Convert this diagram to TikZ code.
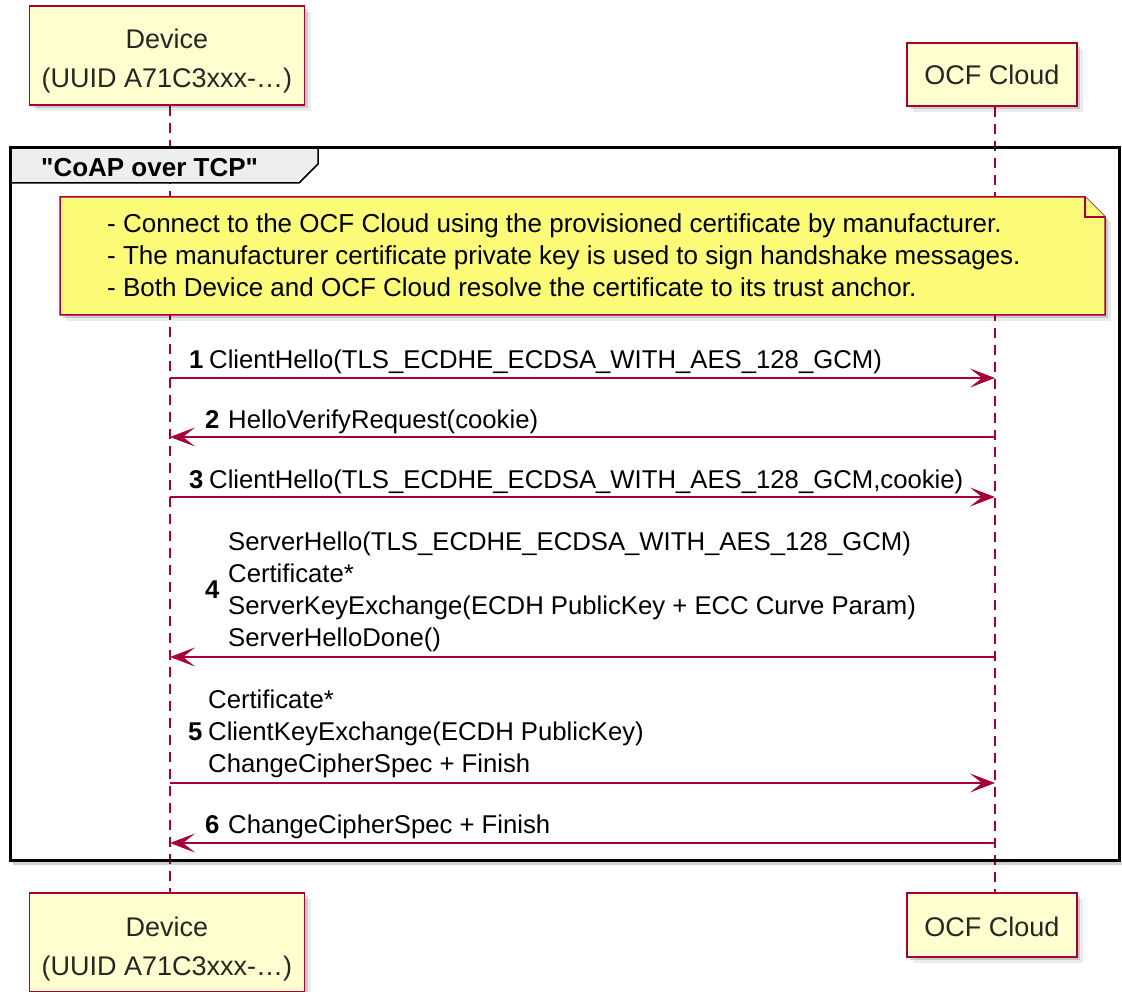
\documentclass[tikz,border=0pt]{standalone}
\usepackage{fontspec}
\setmainfont{Liberation Sans}
\usetikzlibrary{arrows.meta,shadows}
\definecolor{pborder}{HTML}{A80036}
\definecolor{pfill}{HTML}{FEFECE}
\definecolor{nfill}{HTML}{FBFB77}
\definecolor{tabfill}{HTML}{EEEEEE}
\pgfdeclarelayer{back}
\pgfdeclarelayer{mid}
\pgfsetlayers{back,mid,main}
\begin{document}
\begin{tikzpicture}[x=1pt,y=-1pt,
  pshadow/.style={drop shadow={shadow xshift=3pt, shadow yshift=-3pt, fill=black, opacity=0.14},
                  drop shadow={shadow xshift=6pt, shadow yshift=-6pt, fill=black, opacity=0.08}},
  part/.style={draw=pborder, line width=1.5pt, fill=pfill, inner sep=0pt,
               font=\fontsize{27}{39}\selectfont, text=black!85, pshadow},
  lifeline/.style={pborder, line width=1.5pt, dash pattern=on 10pt off 7pt},
  msg/.style={pborder, line width=1.5pt, -{Stealth[length=25pt, width=19pt, inset=12pt]}},
  lbl/.style={font=\fontsize{25.7}{32}\selectfont, inner sep=0pt, anchor=base west},
  notetext/.style={font=\fontsize{26}{32}\selectfont, inner sep=0pt, anchor=base west},
  tabtext/.style={font=\fontsize{26}{32}\selectfont\bfseries, inner sep=0pt, anchor=base west},
  framebox/.style={draw=black, line width=3pt, inner sep=0pt}
]
\useasboundingbox (0,0) rectangle (1122,992);
\begin{pgfonlayer}{back}
  \fill[white] (0,0) rectangle (1122,992);
\end{pgfonlayer}

% participants
\node[part, minimum width=275pt, minimum height=99pt, text height=21pt, text depth=34pt] (devT) at (167,55.5)
  {\begin{tabular}[t]{@{}c@{}}Device\\(UUID A71C3xxx-…)\end{tabular}};
\node[part, minimum width=170pt, minimum height=63pt, text height=21pt, text depth=0pt] (ocfT) at (992,74.5) {OCF Cloud};
\node[part, minimum width=275pt, minimum height=99pt, text height=21pt, text depth=34pt] (devB) at (167,942.5)
  {\begin{tabular}[t]{@{}c@{}}Device\\(UUID A71C3xxx-…)\end{tabular}};
\node[part, minimum width=170pt, minimum height=64pt, text height=23pt, text depth=0pt] (ocfB) at (992,925) {OCF Cloud};

% lifelines
\coordinate (LD) at (170,0);
\coordinate (LC) at (995,0);
\begin{pgfonlayer}{back}
  \draw[lifeline] (devT.south -| LD) -- (devB.north -| LD);
  \draw[lifeline] (ocfT.south -| LC) -- (ocfB.north -| LC);
\end{pgfonlayer}

% frame
\node[framebox, minimum width=1109pt, minimum height=712pt] (frm) at (564.5,504) {};
\begin{pgfonlayer}{mid}
  \draw[black, opacity=0.18, line width=3pt] (1123,151) -- (1123,863.5) -- (13,863.5);
  \filldraw[fill=tabfill, draw=black, line width=1.5pt] (10,148) -- (318,148) -- (318,164) -- (299,183) -- (10,183) -- cycle;
\end{pgfonlayer}
\node[tabtext] (tabl) at (41,177) {\textquotedbl CoAP over TCP\textquotedbl};

% note
\begin{pgfonlayer}{mid}
  \fill[black, opacity=0.08] (66,203) -- (1091,203) -- (1111,223) -- (1111,321) -- (66,321) -- cycle;
  \fill[black, opacity=0.14] (63,200) -- (1088,200) -- (1108,220) -- (1108,318) -- (63,318) -- cycle;
  \filldraw[fill=nfill, draw=pborder, line width=1.5pt] (60,197) -- (1085,197) -- (1105,217) -- (1105,315) -- (60,315) -- cycle;
  \filldraw[fill=nfill, draw=pborder, line width=1.5pt] (1085,197) -- (1085,217) -- (1105,217);
\end{pgfonlayer}
\node[notetext] (note) at (107,233) {\begin{tabular}[t]{@{}l@{}}
- Connect to the OCF Cloud using the provisioned certificate by manufacturer.\\
- The manufacturer certificate private key is used to sign handshake messages.\\
- Both Device and OCF Cloud resolve the certificate to its trust anchor.\end{tabular}};

% message anchors
\coordinate (D1) at (170,378); \coordinate (C1) at (995,378);
\coordinate (D2) at (170,437); \coordinate (C2) at (995,437);
\coordinate (D3) at (170,497); \coordinate (C3) at (995,497);
\coordinate (D4) at (170,657); \coordinate (C4) at (995,657);
\coordinate (D5) at (170,783); \coordinate (C5) at (995,783);
\coordinate (D6) at (170,843); \coordinate (C6) at (995,843);

\draw[msg] (D1) -- (C1);
\draw[msg] (C2) -- (D2);
\draw[msg] (D3) -- (C3);
\draw[msg] (C4) -- (D4);
\draw[msg] (D5) -- (C5);
\draw[msg] (C6) -- (D6);

% labels
\node[lbl] (n1) at (189,369) {\textbf{1}};
\node[lbl] (t1) at (209,369) {ClientHello(TLS\_ECDHE\_ECDSA\_WITH\_AES\_128\_GCM)};
\node[lbl] (n2) at (205,428) {\textbf{2}};
\node[lbl] (t2) at (228,428) {HelloVerifyRequest(cookie)};
\node[lbl] (n3) at (189,488) {\textbf{3}};
\node[lbl] (t3) at (209,488) {ClientHello(TLS\_ECDHE\_ECDSA\_WITH\_AES\_128\_GCM,cookie)};
\node[lbl] (n4) at (205,598) {\textbf{4}};
\node[lbl] (t4) at (228,550) {\begin{tabular}[t]{@{}l@{}}
ServerHello(TLS\_ECDHE\_ECDSA\_WITH\_AES\_128\_GCM)\\
Certificate*\\
ServerKeyExchange(ECDH PublicKey + ECC Curve Param)\\
ServerHelloDone()\end{tabular}};
\node[lbl] (n5) at (188,740) {\textbf{5}};
\node[lbl] (t5) at (208,708) {\begin{tabular}[t]{@{}l@{}}
Certificate*\\
ClientKeyExchange(ECDH PublicKey)\\
ChangeCipherSpec + Finish\end{tabular}};
\node[lbl] (n6) at (205,833) {\textbf{6}};
\node[lbl] (t6) at (228,833) {ChangeCipherSpec + Finish};
\end{tikzpicture}
\end{document}
